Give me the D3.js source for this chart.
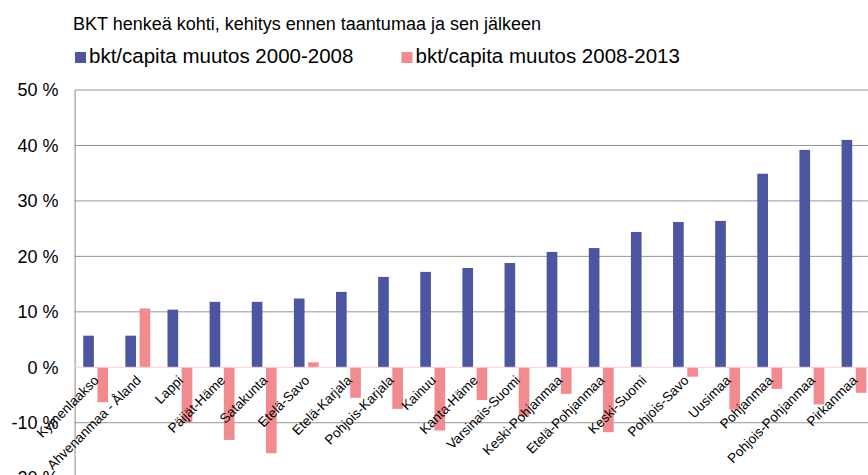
<!DOCTYPE html>
<meta charset="utf-8">
<script src="https://d3js.org/d3.v7.min.js"></script>
<style>
body {
    margin:0;
    overflow:hidden;
    background:#fff;
}
svg {
    display:block;
    font-family:'Liberation Sans', Arial, sans-serif;
}
</style>
<svg width="868" height="475"></svg>
<script>

var title = 'BKT henkeä kohti, kehitys ennen taantumaa ja sen jälkeen';
var seriesNames = ['bkt/capita muutos 2000-2008', 'bkt/capita muutos 2008-2013'];
var seriesColors = ['#4b55a0', '#f28b90'];

var regions = ['Kymenlaakso', 'Ahvenanmaa - Åland', 'Lappi', 'Päijät-Häme', 'Satakunta',
    'Etelä-Savo', 'Etelä-Karjala', 'Pohjois-Karjala', 'Kainuu', 'Kanta-Häme',
    'Varsinais-Suomi', 'Keski-Pohjanmaa', 'Etelä-Pohjanmaa', 'Keski-Suomi', 'Pohjois-Savo',
    'Uusimaa', 'Pohjanmaa', 'Pohjois-Pohjanmaa', 'Pirkanmaa'];

// percent change
var change2000_2008 = [5.7, 5.7, 10.4, 11.8, 11.8, 12.4, 13.6, 16.3, 17.2, 17.9,
    18.8, 20.8, 21.5, 24.4, 26.2, 26.4, 34.9, 39.2, 41.0];
var change2008_2013 = [-6.3, 10.6, -9.9, -13.1, -15.5, 0.9, -5.5, -7.5, -11.4, -5.9,
    -8.9, -4.8, -11.7, 0, -1.7, -7.6, -3.9, -6.7, -4.6];

var yTicks = [-20, -10, 0, 10, 20, 30, 40, 50];

var rows = regions.map(function(name, i) {
    return {name: name, values: [change2000_2008[i], change2008_2013[i]]}
})

var svg = d3.select('svg')

// plot area runs a bit past the right edge of the picture
var left = 74.6, step = 42.13
var x0 = d3.scaleBand()
    .domain(regions)
    .range([left, left + step * regions.length])
    .paddingInner(0.41)
    .paddingOuter(0.205)
var x1 = d3.scaleBand()
    .domain([0, 1])
    .range([0, x0.bandwidth()])
    .paddingInner(0.25)
var y = d3.scaleLinear()
    .domain([-20, 50])
    .range([478.2, 90])

// gridlines
svg.append('g')
    .selectAll('line')
    .data(yTicks.filter(function(t) { return t !== 0 }))
    .enter().append('line')
    .attr('x1', left)
    .attr('x2', 868)
    .attr('y1', function(t) { return y(t) })
    .attr('y2', function(t) { return y(t) })
    .attr('stroke', '#959595')
    .attr('stroke-width', 1)

// y axis
var yAxis = d3.axisLeft(y)
    .tickValues(yTicks)
    .tickSize(0)
    .tickPadding(16)
    .tickFormat(function(t) { return t + ' %' })
svg.append('g')
    .attr('transform', 'translate(' + left + ',0)')
    .call(yAxis)
    .call(function(g) {
        g.select('.domain').attr('stroke', '#8c8c8c')
        g.selectAll('text')
            .attr('font-size', 18)
            .attr('font-family', "'Liberation Sans', Arial, sans-serif")
            .attr('fill', '#000')
    })

// bars
svg.append('g')
    .selectAll('g')
    .data(rows)
    .enter().append('g')
    .attr('transform', function(d) { return 'translate(' + x0(d.name) + ',0)' })
    .selectAll('rect')
    .data(function(d) { return d.values })
    .enter().append('rect')
    .attr('x', function(v, i) { return x1(i) })
    .attr('width', x1.bandwidth())
    .attr('y', function(v) { return y(Math.max(0, v)) })
    .attr('height', function(v) { return Math.abs(y(v) - y(0)) })
    .attr('fill', function(v, i) { return seriesColors[i] })

// zero line
svg.append('line')
    .attr('x1', left)
    .attr('x2', 868)
    .attr('y1', y(0))
    .attr('y2', y(0))
    .attr('stroke', '#f7d3d5')
    .attr('stroke-width', 1)

// category labels, rotated
svg.append('g')
    .selectAll('text')
    .data(regions)
    .enter().append('text')
    .attr('transform', function(d) {
        return 'translate(' + (x0(d) + x0.bandwidth() / 2 + 4) + ',' + (y(0) + 14) + ') rotate(-45)'
    })
    .attr('text-anchor', 'end')
    .attr('font-size', 13.5)
    .attr('fill', '#000')
    .text(function(d) { return d })

// title
svg.append('text')
    .attr('x', 73)
    .attr('y', 30)
    .attr('font-size', 18)
    .attr('fill', '#000')
    .text(title)

// legend
var legendX = [75, 401.5]
var legend = svg.append('g')
    .selectAll('g')
    .data(seriesNames)
    .enter().append('g')
    .attr('transform', function(d, i) { return 'translate(' + legendX[i] + ',0)' })
legend.append('rect')
    .attr('x', 0)
    .attr('y', 52)
    .attr('width', 11)
    .attr('height', 11)
    .attr('fill', function(d, i) { return seriesColors[i] })
legend.append('text')
    .attr('x', 14)
    .attr('y', 63)
    .attr('font-size', 20.5)
    .attr('fill', '#000')
    .text(function(d) { return d })

</script>
